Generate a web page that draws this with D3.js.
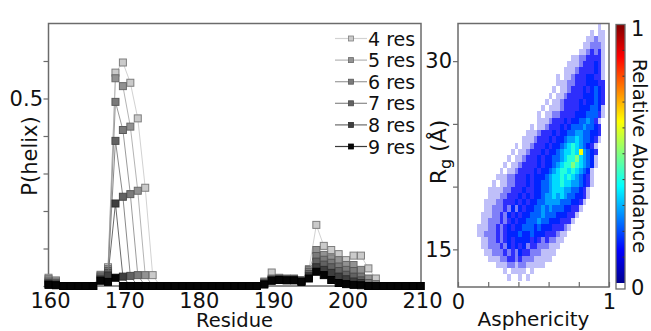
<!DOCTYPE html>
<html>
<head>
<meta charset="utf-8">
<script src="https://cdn.jsdelivr.net/npm/d3@7"></script>
<style>
  body { margin: 0; background: #fff; }
  svg { display: block; font-family: "DejaVu Sans", sans-serif; }
</style>
</head>
<body>
<svg id="chart" width="651" height="331"></svg>
<script>
// ---- left panel data: P(helix) per residue for each window length ----
const residues = d3.range(160, 211);
const seriesNames = ['4 res', '5 res', '6 res', '7 res', '8 res', '9 res'];
const res4 = [0.022, 0.015, 0, 0, 0, 0, 0, 0.03, 0.05, 0.569, 0.596, 0.542, 0.447, 0.262, 0.029,
  0, 0, 0, 0, 0, 0, 0, 0, 0, 0, 0, 0, 0, 0,
  0.012, 0.036, 0.022, 0.02, 0.02, 0.016, 0.045, 0.163, 0.107, 0.096, 0.085, 0.069, 0.081, 0.081, 0.047, 0.02,
  0, 0, 0, 0, 0, 0];
const res5 = [0.018, 0.012, 0, 0, 0, 0, 0, 0.028, 0.045, 0.554, 0.533, 0.425, 0.254, 0.029, 0,
  0, 0, 0, 0, 0, 0, 0, 0, 0, 0, 0, 0, 0, 0,
  0.01, 0.02, 0.02, 0.019, 0.019, 0.015, 0.043, 0.096, 0.083, 0.074, 0.069, 0.056, 0.056, 0.043, 0.02, 0.005,
  0, 0, 0, 0, 0, 0];
const res6 = [0.012, 0.008, 0, 0, 0, 0, 0, 0.025, 0.04, 0.491, 0.416, 0.245, 0.029, 0, 0,
  0, 0, 0, 0, 0, 0, 0, 0, 0, 0, 0, 0, 0, 0,
  0.008, 0.018, 0.019, 0.018, 0.018, 0.014, 0.038, 0.08, 0.07, 0.062, 0.052, 0.043, 0.04, 0.025, 0.008, 0,
  0, 0, 0, 0, 0, 0];
const res7 = [0.008, 0.005, 0, 0, 0, 0, 0, 0.02, 0.035, 0.387, 0.238, 0.027, 0, 0, 0,
  0, 0, 0, 0, 0, 0, 0, 0, 0, 0, 0, 0, 0, 0,
  0.006, 0.016, 0.018, 0.017, 0.017, 0.013, 0.032, 0.065, 0.057, 0.05, 0.04, 0.03, 0.025, 0.015, 0, 0,
  0, 0, 0, 0, 0, 0];
const res8 = [0.005, 0.003, 0, 0, 0, 0, 0, 0.017, 0.028, 0.22, 0.025, 0, 0, 0, 0,
  0, 0, 0, 0, 0, 0, 0, 0, 0, 0, 0, 0, 0, 0,
  0.005, 0.015, 0.017, 0.016, 0.016, 0.012, 0.026, 0.05, 0.043, 0.035, 0.025, 0.018, 0.012, 0.008, 0, 0,
  0, 0, 0, 0, 0, 0];
const res9 = [0.003, 0.002, 0, 0, 0, 0, 0, 0.014, 0.011, 0.022, 0, 0, 0, 0, 0,
  0, 0, 0, 0, 0, 0, 0, 0, 0, 0, 0, 0, 0, 0,
  0.004, 0.014, 0.016, 0.015, 0.015, 0.011, 0.02, 0.038, 0.029, 0.016, 0.008, 0.005, 0.003, 0.002, 0, 0,
  0, 0, 0, 0, 0, 0];
const residueTicks = [160, 170, 180, 190, 200, 210];
const helixTicks = [0, 0.1, 0.2, 0.3, 0.4, 0.5, 0.6];
const helixLabels = [0.5];

// ---- right panel data: 2D histogram of Rg vs asphericity ----
// rows go from Rg 33 down to 12 in 0.5 A steps, columns are asphericity bins of 0.025
// each row: [first column, levels]; '.' empty, a/b sparse, 1..9 relative abundance level
const rgTop = 33, rgStep = 0.5, asphStep = 0.025;
const densityRows = [
  [37, 'a'],
  [35, 'a.aa'],
  [34, 'aabaa'],
  [33, 'aabbba'],
  [32, 'aab1b1a'],
  [30, 'aabb1111a'],
  [29, 'aaab11121a'],
  [28, 'aaab111121a'],
  [26, 'a.aab1112211a'],
  [26, 'aaabb11122211'],
  [25, 'a.aab111212321'],
  [24, 'a.aab1111222321'],
  [23, 'a.aab11112122321'],
  [22, 'a.aaab1111222332a'],
  [21, 'a.aabb11112223331a'],
  [21, 'aaab111212233431a'],
  [19, 'a.aab11121233343321'],
  [18, 'aaab1112122334433221'],
  [17, 'aaab1112122344543321a'],
  [15, 'a.aab1112122345654321a'],
  [14, 'a.aab111212234556584321'],
  [13, 'a.aab111212233456675432a'],
  [12, 'a.aab1111212234566765432a'],
  [11, 'a.aab1111212234566565432a'],
  [10, 'aaabb11121222345565654321a'],
  [9, 'a.aabb11121223345565544321a'],
  [8, 'aaaabb11121122334555443321a'],
  [8, 'aaabb111212122344545433221a'],
  [7, 'aaabb111212122334444333221a'],
  [7, 'aabbb1b2b2122334343332211a'],
  [6, 'aaabb1b212122333433322211a'],
  [6, 'aabbb1b12122333433222111a'],
  [5, 'aaabb1b1212233323222111ba'],
  [5, 'aabbb1b12223223222111baa'],
  [6, 'aabb1b1212222121b1bbaa'],
  [6, 'aabbb1b21212b11bbbaaa'],
  [7, 'aabbb1b1b211bbbaaaa'],
  [8, 'aaabb11b1bbbaaaaa'],
  [10, 'aaabbabbaaaaa'],
  [12, 'a.aaaa.a'],
  [13, 'a..a.a'],
  [0, '']
];
const levelValue = { a: 0.1, b: 0.11, 1: 0.12, 2: 0.16, 3: 0.22, 4: 0.28, 5: 0.34, 6: 0.41, 7: 0.5, 8: 0.62, 9: 0.85 };
const levelOpacity = { a: 0.25, b: 0.5, 1: 0.82 };
const rgTicks = [15, 20, 25, 30];
const rgLabels = [15, 30];
const asphTicks = [0, 0.2, 0.4, 0.6, 0.8, 1];
const abundanceTicks = [0.1, 0.2, 0.3, 0.4, 0.5, 0.6, 0.7, 0.8, 0.9];

const jetStops = [0, 0.125, 0.375, 0.625, 0.875, 1];
const jetColors = ['#00008f', '#0000ff', '#00ffff', '#ffff00', '#ff0000', '#800000'];
const jet = d3.scaleLinear().domain(jetStops).range(jetColors);

const frameColor = '#6b6b6b';
const svg = d3.select('#chart');

// ================= left panel =================
const x = d3.scaleLinear().domain([160, 210]).range([48.5, 420.5]);
const y = d3.scaleLinear().domain([0, 0.7]).range([286, 23.5]);

const yAxis = svg.append('g')
  .attr('transform', 'translate(48.5,0)')
  .call(d3.axisLeft(y).tickValues(helixTicks).tickSize(5).tickPadding(0.5)
    .tickFormat(d => helixLabels.includes(d) ? d3.format('.1f')(d) : ''));
yAxis.select('.domain').remove();
yAxis.selectAll('line').attr('stroke', frameColor).attr('stroke-width', 1.2);
yAxis.selectAll('text').attr('font-size', 21).attr('font-family', 'DejaVu Sans').attr('fill', '#111');

const xAxis = svg.append('g')
  .attr('transform', 'translate(0,286)')
  .call(d3.axisBottom(x).tickValues(residueTicks).tickSize(0));
xAxis.select('.domain').remove();
xAxis.selectAll('text').attr('dy', null).attr('y', 22).attr('dx', 1.5)
  .attr('font-size', 21).attr('font-family', 'DejaVu Sans').attr('fill', '#111');

svg.append('rect')
  .attr('x', x(160)).attr('y', y(0.7))
  .attr('width', x(210) - x(160) + 0.5).attr('height', y(0) - y(0.7))
  .attr('fill', 'none').attr('stroke', frameColor).attr('stroke-width', 1.5);

const series = [
  { name: seriesNames[0], values: res4, fill: '#cacaca', stroke: '#7e7e7e', line: '#d2d2d2' },
  { name: seriesNames[1], values: res5, fill: '#929292', stroke: '#6a6a6a', line: '#b4b4b4' },
  { name: seriesNames[2], values: res6, fill: '#7a7a7a', stroke: '#5a5a5a', line: '#9c9c9c' },
  { name: seriesNames[3], values: res7, fill: '#626262', stroke: '#4a4a4a', line: '#8a8a8a' },
  { name: seriesNames[4], values: res8, fill: '#3e3e3e', stroke: '#2e2e2e', line: '#6a6a6a' },
  { name: seriesNames[5], values: res9, fill: '#050505', stroke: '#000', line: '#3a3a3a' }
];

const line = d3.line()
  .x((d, i) => x(residues[i]))
  .y(d => y(d));

const ms = 7;
series.forEach(s => {
  const g = svg.append('g');
  g.append('path')
    .datum(s.values)
    .attr('fill', 'none')
    .attr('stroke', s.line)
    .attr('stroke-width', 1)
    .attr('d', line);
  g.selectAll('rect')
    .data(s.values)
    .join('rect')
    .attr('x', (d, i) => x(residues[i]) - ms / 2)
    .attr('y', d => y(d) - ms / 2)
    .attr('width', ms).attr('height', ms)
    .attr('fill', s.fill)
    .attr('stroke', s.stroke)
    .attr('stroke-width', 1);
});

// legend
const legend = svg.append('g');
series.forEach((s, i) => {
  const ly = 38.5 + i * 21.6;
  legend.append('line')
    .attr('x1', 335).attr('x2', 367).attr('y1', ly).attr('y2', ly)
    .attr('stroke', s.line).attr('stroke-width', 1.2);
  legend.append('rect')
    .attr('x', 351 - 2.5).attr('y', ly - 2.5).attr('width', 5).attr('height', 5)
    .attr('fill', s.fill).attr('stroke', s.stroke).attr('stroke-width', 0.8);
  legend.append('text')
    .attr('x', 368).attr('y', ly + 7)
    .attr('font-size', 19).attr('fill', '#111')
    .text(s.name);
});

svg.append('text')
  .attr('x', (x(160) + x(210)) / 2).attr('y', 327)
  .attr('text-anchor', 'middle').attr('font-size', 19.5).attr('fill', '#111')
  .text('Residue');
svg.append('text')
  .attr('transform', 'translate(37,156) rotate(-90)')
  .attr('text-anchor', 'middle').attr('font-size', 21).attr('fill', '#111')
  .text('P(helix)');

// ================= right panel =================
const ax = d3.scaleLinear().domain([0, 1]).range([458, 609]);
const ry = d3.scaleLinear().domain([12, 33]).range([287, 23.5]);

const cells = [];
densityRows.forEach(([start, levels], j) => {
  levels.split('').forEach((ch, k) => {
    if (ch === '.') return;
    cells.push({ asph: (start + k) * asphStep, rg: rgTop - j * rgStep, level: ch });
  });
});

svg.append('g')
  .attr('shape-rendering', 'crispEdges')
  .selectAll('rect')
  .data(cells)
  .join('rect')
  .attr('x', d => ax(d.asph))
  .attr('y', d => ry(d.rg))
  .attr('width', d => ax(d.asph + asphStep) - ax(d.asph))
  .attr('height', d => ry(d.rg - rgStep) - ry(d.rg))
  .attr('fill', d => jet(levelValue[d.level]))
  .attr('fill-opacity', d => levelOpacity[d.level] ?? 1);

const rAxisY = svg.append('g')
  .attr('transform', 'translate(458,0)')
  .call(d3.axisLeft(ry).tickValues(rgTicks).tickSize(5).tickPadding(1)
    .tickFormat(d => rgLabels.includes(d) ? d : ''));
rAxisY.select('.domain').remove();
rAxisY.selectAll('line').attr('stroke', frameColor).attr('stroke-width', 1.2);
rAxisY.selectAll('text').attr('font-size', 21).attr('font-family', 'DejaVu Sans').attr('fill', '#111');

const rAxisX = svg.append('g')
  .attr('transform', 'translate(0,287)')
  .call(d3.axisBottom(ax).tickValues(asphTicks).tickSize(-5)
    .tickFormat(d => (d === 0 || d === 1) ? d : ''));
rAxisX.select('.domain').remove();
rAxisX.selectAll('line').attr('stroke', frameColor).attr('stroke-width', 1.2);
rAxisX.selectAll('text').attr('dy', null).attr('y', 22)
  .attr('font-size', 21).attr('font-family', 'DejaVu Sans').attr('fill', '#111');

svg.append('rect')
  .attr('x', ax(0)).attr('y', ry(33))
  .attr('width', ax(1) - ax(0)).attr('height', ry(12) - ry(33))
  .attr('fill', 'none').attr('stroke', frameColor).attr('stroke-width', 1.5);

svg.append('text')
  .attr('x', (ax(0) + ax(1)) / 2).attr('y', 326)
  .attr('text-anchor', 'middle').attr('font-size', 20).attr('fill', '#111')
  .text('Asphericity');

const rgLabel = svg.append('text')
  .attr('transform', 'translate(446,152) rotate(-90)')
  .attr('text-anchor', 'middle').attr('font-size', 22).attr('fill', '#111');
rgLabel.append('tspan').text('R');
rgLabel.append('tspan').attr('font-size', 16).attr('dy', 5).text('g');
rgLabel.append('tspan').attr('dy', -5).text(' (Å)');

// ================= colorbar =================
const cb = d3.scaleLinear().domain([0, 1]).range([283, 24.5]);
const defs = svg.append('defs');
const grad = defs.append('linearGradient')
  .attr('id', 'jetGrad').attr('x1', 0).attr('x2', 0).attr('y1', 1).attr('y2', 0);
grad.selectAll('stop')
  .data(jetStops)
  .join('stop')
  .attr('offset', d => d)
  .attr('stop-color', (d, i) => jetColors[i]);

const cbX = 616, cbW = 9;
svg.append('rect')
  .attr('x', cbX).attr('y', cb(1)).attr('width', cbW).attr('height', cb(0) - cb(1))
  .attr('fill', 'url(#jetGrad)');
svg.append('rect')
  .attr('x', cbX).attr('y', cb(0)).attr('width', cbW).attr('height', 6)
  .attr('fill', '#fff');
svg.append('g')
  .selectAll('line')
  .data(abundanceTicks)
  .join('line')
  .attr('x1', cbX + cbW - 2.5).attr('x2', cbX + cbW)
  .attr('y1', d => cb(d)).attr('y2', d => cb(d))
  .attr('stroke', '#333').attr('stroke-width', 1);
svg.append('rect')
  .attr('x', cbX).attr('y', cb(1)).attr('width', cbW).attr('height', cb(0) + 6 - cb(1))
  .attr('fill', 'none').attr('stroke', frameColor).attr('stroke-width', 1.3);

svg.append('text').attr('x', 631).attr('y', 36)
  .attr('font-size', 21).attr('fill', '#111').text('1');
svg.append('text').attr('x', 631).attr('y', 295)
  .attr('font-size', 21).attr('fill', '#111').text('0');
svg.append('text')
  .attr('transform', 'translate(633,156) rotate(90)')
  .attr('text-anchor', 'middle').attr('font-size', 19.5).attr('fill', '#111')
  .text('Relative Abundance');
</script>
</body>
</html>
